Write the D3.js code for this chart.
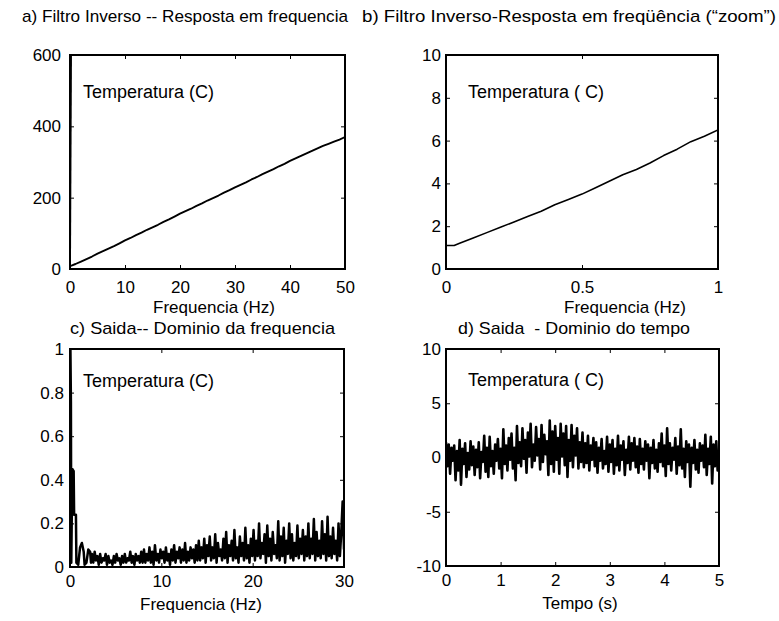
<!DOCTYPE html>
<html>
<head>
<meta charset="utf-8">
<script src="https://cdn.jsdelivr.net/npm/d3@7"></script>
<style>
html,body{margin:0;padding:0;background:#fff;}
svg{display:block;}
text{font-family:"Liberation Sans",Arial,sans-serif;fill:#000;white-space:pre;}
</style>
</head>
<body>
<svg id="chart" width="779" height="621"></svg>
<script>
// ---------------- DATA ----------------
// a) inverse filter frequency response (0..50 Hz)
const freqA = [0,1,2,3,4,5,6,7,8,9,10,11,12,13,14,15,16,17,18,19,20,21,22,23,24,25,26,27,28,29,30,31,32,33,34,35,36,37,38,39,40,41,42,43,44,45,46,47,48,49,50];
const tempA = [8,14,21,28,35,43,50,57,64,72,80,87,95,102,110,117,124,132,139,147,155,162,169,177,184,192,199,206,214,221,229,236,243,251,258,266,273,280,288,295,303,310,317,324,331,338,345,351,357,363,370];
const spikeFreqA = [0, 0.2];
const spikeTempA = [6, 650];

// b) zoom 0..1 Hz
const freqB = [0,0.03,0.05,0.1,0.15,0.2,0.25,0.3,0.35,0.4,0.45,0.5,0.55,0.6,0.65,0.7,0.75,0.8,0.85,0.9,0.95,1.0];
const tempB = [1.1,1.1,1.2,1.45,1.7,1.95,2.2,2.45,2.7,3.0,3.25,3.5,3.8,4.1,4.4,4.65,4.95,5.3,5.6,5.95,6.2,6.5];

// c) output spectrum
const specLowFreq = [0,0.1,0.14,0.25,0.4,0.45,0.65,0.7,0.9,1.1,1.3,1.5,1.6,1.8,2.0,2.2,2.3];
const specLowAmp  = [1.2,0.76,0.02,0.45,0.44,0.24,0.24,0.02,0.01,0.09,0.11,0.07,0.01,0.02,0.08,0.07,0.02];
const specNoiseStart = 2.4, specNoiseStep = 0.15;
const specNoiseAmp = [
 .06,.02,.07,.03,.05,.01,.06,.02,.04,.03,.06,.01,.05,.02,.03,.01,.05,.02,.06,.03,.04,.01,.05,.02,.06,.02,.04,.03,.07,.02,.05,.01,.06,.03,.05,.02,.07,.02,
 .08,.02,.06,.03,.09,.02,.07,.01,.10,.03,.06,.02,.08,.04,.07,.02,.09,.03,.06,.01,.08,.03,.10,.02,.07,.04,.09,.02,.08,.03,.11,.02,.07,.03,.09,.04,.08,.02,.10,.03,
 .12,.03,.09,.04,.13,.02,.10,.05,.14,.03,.09,.04,.15,.02,.11,.05,.08,.03,.13,.04,.16,.02,.10,.05,.12,.03,.17,.04,.09,.02,.14,.05,.11,.03,.18,.04,.10,.02,.13,.05,
 .17,.03,.12,.05,.20,.04,.11,.06,.15,.02,.19,.05,.13,.03,.16,.06,.10,.04,.21,.03,.14,.05,.18,.02,.12,.06,.20,.04,.15,.03,.11,.05,.19,.04,.13,.06,.17,.03,.14,.05,
 .20,.04,.13,.06,.22,.03,.16,.05,.12,.04,.21,.06,.15,.03,.23,.05,.14,.04,.18,.06,.12,.03,.20,.05,.16,.30,.08
];

// d) output, time domain (0..5 s)
const timeStart = 0, timeStep = 0.025;
const outTemp = [
 1.4,-0.8,1.2,-1.5,0.9,-0.3,1.1,-2.1,0.6,-1.2,1.6,-2.5,0.8,-0.6,1.3,-1.8,0.4,-1.1,1.5,-0.7,
 1.0,-1.6,0.7,-0.9,1.4,-1.9,0.5,-0.4,2.0,-1.3,0.9,-1.8,1.9,-0.8,0.6,-1.5,1.2,-0.3,1.7,-1.0,
 0.8,-1.9,2.6,-0.6,1.1,-1.2,1.8,-0.2,2.2,-1.0,0.9,-2.1,2.9,-0.5,1.4,-0.8,2.7,-0.1,1.6,-1.4,
 2.3,0.1,3.1,-0.9,1.2,-0.3,2.8,0.2,1.7,-1.1,3.0,-0.4,2.1,0.3,1.5,-1.6,3.4,-0.6,2.4,-1.3,
 2.9,-0.2,1.8,-1.5,3.1,0.1,2.2,-0.7,2.9,-1.8,1.6,-0.3,3.0,-0.9,2.0,0.2,2.7,-1.0,1.4,-0.4,
 2.3,-0.9,1.3,-0.5,2.0,-1.2,1.1,-0.2,1.8,-0.8,1.4,-1.4,0.9,-0.3,1.7,-1.0,0.6,-0.6,1.9,-1.3,
 1.2,-0.4,1.6,-1.5,0.8,-0.7,2.0,-1.2,1.1,-0.2,1.5,-1.6,0.7,-0.5,1.9,-1.1,1.3,-0.3,1.8,-0.9,
 1.0,-1.4,1.7,-0.6,0.8,-1.1,1.5,-0.3,1.2,-1.9,0.9,-0.5,1.6,-1.0,0.7,-1.3,1.3,-0.4,2.2,-0.8,
 1.1,-1.7,2.7,-0.6,1.3,-1.2,0.9,-0.2,1.8,-1.5,1.0,-0.7,2.6,-1.0,0.8,-1.8,1.5,-0.4,1.2,-2.7,
 0.9,-0.5,1.6,-1.1,0.7,-1.4,1.3,-0.3,1.1,-0.9,2.1,-1.6,0.8,-0.6,1.9,-2.4,1.2,-0.8,1.5,-1.2,
 0.6
];

// tick values & labels
const ticksAx = [0,10,20,30,40,50], ticksAy = [0,200,400,600];
const ticksBx = [0,0.5,1], ticksBy = [0,2,4,6,8,10];
const ticksCx = [0,10,20,30], ticksCy = [0,0.2,0.4,0.6,0.8,1];
const ticksDx = [0,1,2,3,4,5], ticksDy = [-10,-5,0,5,10];

const titles = ["a) Filtro Inverso -- Resposta em frequencia",
                "b) Filtro Inverso-Resposta em freqüência (\u201czoom\u201d)",
                "c) Saida-- Dominio da frequencia",
                "d) Saida  - Dominio do tempo"];
const xLabels = ["Frequencia (Hz)","Frequencia (Hz)","Frequencia (Hz)","Tempo (s)"];
const notes = ["Temperatura (C)","Temperatura ( C)","Temperatura (C)","Temperatura ( C)"];

// ---------------- BUILD SERIES ----------------
const zip = (xs, ys) => xs.map((x,i)=>[x, ys[i]]);
const seriesA = [zip(freqA, tempA), zip(spikeFreqA, spikeTempA)];
const seriesB = [zip(freqB, tempB)];
const seriesC = [zip(specLowFreq, specLowAmp).concat(specNoiseAmp.map((v,i)=>[specNoiseStart + i*specNoiseStep, v]))];
const seriesD = [outTemp.map((v,i)=>[timeStart + i*timeStep, v])];

// ---------------- LAYOUT ----------------
const panels = [
 {x0:70, x1:345, y0:55, y1:269, xd:[0,50], yd:[0,600], xt:ticksAx, yt:ticksAy, fmt:d3.format("d"), yfmt:d3.format("d"), sw:1.9,
  series:seriesA, xpad:12, ypad:9, title:titles[0], tx:22, ty:22, tw:326, label:xLabels[0], lx:214, ly:313, note:notes[0], nx:83, ny:98},
 {x0:446, x1:718, y0:55, y1:269, xd:[0,1], yd:[0,10], xt:ticksBx, yt:ticksBy, fmt:d=>String(d), yfmt:d=>String(d), sw:1.6,
  series:seriesB, xpad:12, ypad:5, title:titles[1], tx:362, ty:22, tw:414, label:xLabels[1], lx:625, ly:313, note:notes[1], nx:468, ny:98},
 {x0:70, x1:344, y0:349, y1:567, xd:[0,30], yd:[0,1], xt:ticksCx, yt:ticksCy, fmt:d=>String(d), yfmt:d=>String(d), sw:2.5,
  series:seriesC, xpad:8, ypad:6, title:titles[2], tx:70, ty:334, tw:265, label:xLabels[2], lx:201, ly:610, note:notes[2], nx:83, ny:387},
 {x0:446, x1:719, y0:349, y1:566, xd:[0,5], yd:[-10,10], xt:ticksDx, yt:ticksDy, fmt:d=>String(d), yfmt:d=>String(d).replace("\u2212","-"), sw:2.6,
  series:seriesD, xpad:8, ypad:5, title:titles[3], tx:458, ty:334, tw:232, label:xLabels[3], lx:580, ly:609, note:notes[3], nx:468, ny:386}
];

const svg = d3.select("#chart");
const FS = 17;

panels.forEach((p, idx) => {
  const x = d3.scaleLinear().domain(p.xd).range([p.x0, p.x1]);
  const y = d3.scaleLinear().domain(p.yd).range([p.y1, p.y0]);
  const g = svg.append("g");

  const clipId = "clip" + idx;
  svg.append("clipPath").attr("id", clipId).append("rect")
    .attr("x", p.x0).attr("y", p.y0).attr("width", p.x1 - p.x0).attr("height", p.y1 - p.y0);

  const line = d3.line().x(d => x(d[0])).y(d => y(d[1]));
  g.append("g").attr("clip-path", `url(#${clipId})`)
    .selectAll("path").data(p.series).join("path")
    .attr("d", line).attr("fill", "none").attr("stroke", "#000")
    .attr("stroke-width", p.sw).attr("stroke-linejoin", "round");

  const styleAxis = sel => {
    sel.attr("font-size", FS).attr("font-family", "'Liberation Sans', Arial, sans-serif");
    sel.select(".domain").remove();
    sel.selectAll("line").attr("stroke", "#000").attr("stroke-width", 1);
    sel.selectAll("text").attr("fill", "#000");
  };

  g.append("g").attr("transform", `translate(0,${p.y1})`)
    .call(d3.axisBottom(x).tickValues(p.xt).tickFormat(p.fmt).tickSize(-4).tickPadding(p.xpad)).call(styleAxis);
  g.append("g").attr("transform", `translate(0,${p.y0})`)
    .call(d3.axisTop(x).tickValues(p.xt).tickFormat("").tickSize(-4)).call(styleAxis);
  g.append("g").attr("transform", `translate(${p.x0},0)`)
    .call(d3.axisLeft(y).tickValues(p.yt).tickFormat(p.yfmt).tickSize(-4).tickPadding(p.ypad)).call(styleAxis);
  g.append("g").attr("transform", `translate(${p.x1},0)`)
    .call(d3.axisRight(y).tickValues(p.yt).tickFormat("").tickSize(-4)).call(styleAxis);

  g.append("rect").attr("x", p.x0).attr("y", p.y0)
    .attr("width", p.x1 - p.x0).attr("height", p.y1 - p.y0)
    .attr("fill", "none").attr("stroke", "#000").attr("stroke-width", 2);

  g.append("text").attr("x", p.nx).attr("y", p.ny).attr("font-size", 18).text(p.note);
  g.append("text").attr("x", p.lx).attr("y", p.ly).attr("text-anchor", "middle").attr("font-size", FS).text(p.label);
  g.append("text").attr("x", p.tx).attr("y", p.ty).attr("font-size", FS)
    .attr("textLength", p.tw).attr("lengthAdjust", "spacingAndGlyphs").text(p.title);
});
</script>
</body>
</html>
